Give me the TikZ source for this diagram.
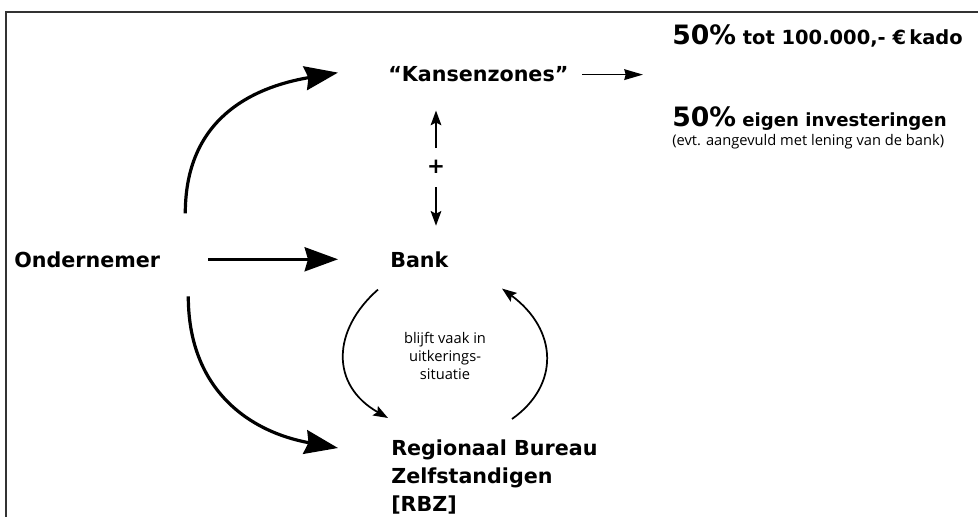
\documentclass[tikz,border=0pt]{standalone}
\usepackage{fontspec}
\setmainfont{DejaVu Sans}
\newfontfamily\thinfont{Open Sans}
\usetikzlibrary{arrows.meta,calc}
\newcommand{\pctfont}{\bfseries\fontsize{20}{24}\selectfont}

\begin{document}
\begin{tikzpicture}[x=0.75pt,y=-0.75pt,
  lbl/.style={inner sep=0pt,anchor=base west,font=\bfseries\fontsize{15.5}{21}\selectfont},
  bigarrow/.style={line width=2.4pt,-{Stealth[length=25pt,width=18pt,inset=2.5pt]}},
  smallarrow/.style={line width=1.3pt,-{Stealth[length=11pt,width=8pt,inset=2pt]}}]
\useasboundingbox (0,0) rectangle (978,517);

%Frame (top and left only)
\draw [line width=1.2pt,black!80] (978,12) -- (6,12) -- (6,517);

% Text Node
\node [lbl] (ond) at (14,267) {Ondernemer};
% Text Node
\node [lbl] (kans) at (388,82) {“Kansenzones”};
% Text Node
\node [lbl] (bank) at (390,267) {Bank};
% Text Node
\node [lbl,anchor=north west,align=left] (rbz) at (391,440) {Regionaal Bureau\\Zelfstandigen\\{[RBZ]}};
% Text Node
\node [inner sep=0pt,font=\bfseries\fontsize{16}{18}\selectfont] (plus) at (436,167) {+};
% Text Node
\node [inner sep=0pt,align=center,font=\thinfont\fontsize{11}{13.5}\selectfont] (mid) at (445,356) {blijft vaak in\\uitkerings-\\situatie};
% Text Node
\node [inner sep=0pt,anchor=base west,font=\bfseries\fontsize{14.6}{16}\selectfont] (top50) at (672,45) {{\pctfont 50\%} tot 100.000,- €\,kado};
% Text Node
\node [inner sep=0pt,anchor=base west,font=\bfseries\fontsize{13.6}{16}\selectfont] (bot50) at (672,126) {{\pctfont 50\%} eigen investeringen};
% Text Node
\node [inner sep=0pt,anchor=base west,font=\thinfont\fontsize{11}{13}\selectfont] (note) at (672,145) {(evt. aangevuld met lening van de bank)};

%Arrow ends
\coordinate (ondup) at ($(ond.east)+(25,-46)$);
\coordinate (onddown) at ($(ond.east)+(28,37)$);
\coordinate (kansin) at ($(kans.west)+(-50,-2)$);
\coordinate (rbzin) at ($(rbz.north west)+(-53,8)$);
\coordinate (kansout) at (643,75);

%Big arrows from Ondernemer
\draw [bigarrow] (ondup) .. controls ($(ondup)+(0,-93)$) and ($(kansin)+(-88,15)$) .. (kansin);
\draw [bigarrow,shorten <=36pt,shorten >=39pt] (ond.east) -- (bank.west);
\draw [bigarrow] (onddown) .. controls ($(onddown)+(0,94)$) and ($(rbzin)+(-88,-16)$) .. (rbzin);

%Kansenzones to the percentages
\draw [smallarrow,-{Stealth[length=14pt,width=8pt,inset=1pt]},shorten <=10pt] (kans.east) -- (kans.east -| kansout);

%Plus between Kansenzones and Bank
\draw [smallarrow,shorten <=9pt,shorten >=21pt] (plus.north) -- (plus.north |- kans.south);
\draw [smallarrow,shorten <=10pt,shorten >=19pt] (plus.south) -- (plus.south |- bank.north);

%Loop between Bank and RBZ
\draw [smallarrow] ($(bank.south west)+(-12,22)$) .. controls (332,330) and (330,385) .. ($(rbz.north west)+(-3,-22)$);
\draw [smallarrow] ($(rbz.north west)+(121,-21)$) .. controls (560,385) and (558,330) .. ($(bank.south west)+(112,21)$);
\end{tikzpicture}
\end{document}
